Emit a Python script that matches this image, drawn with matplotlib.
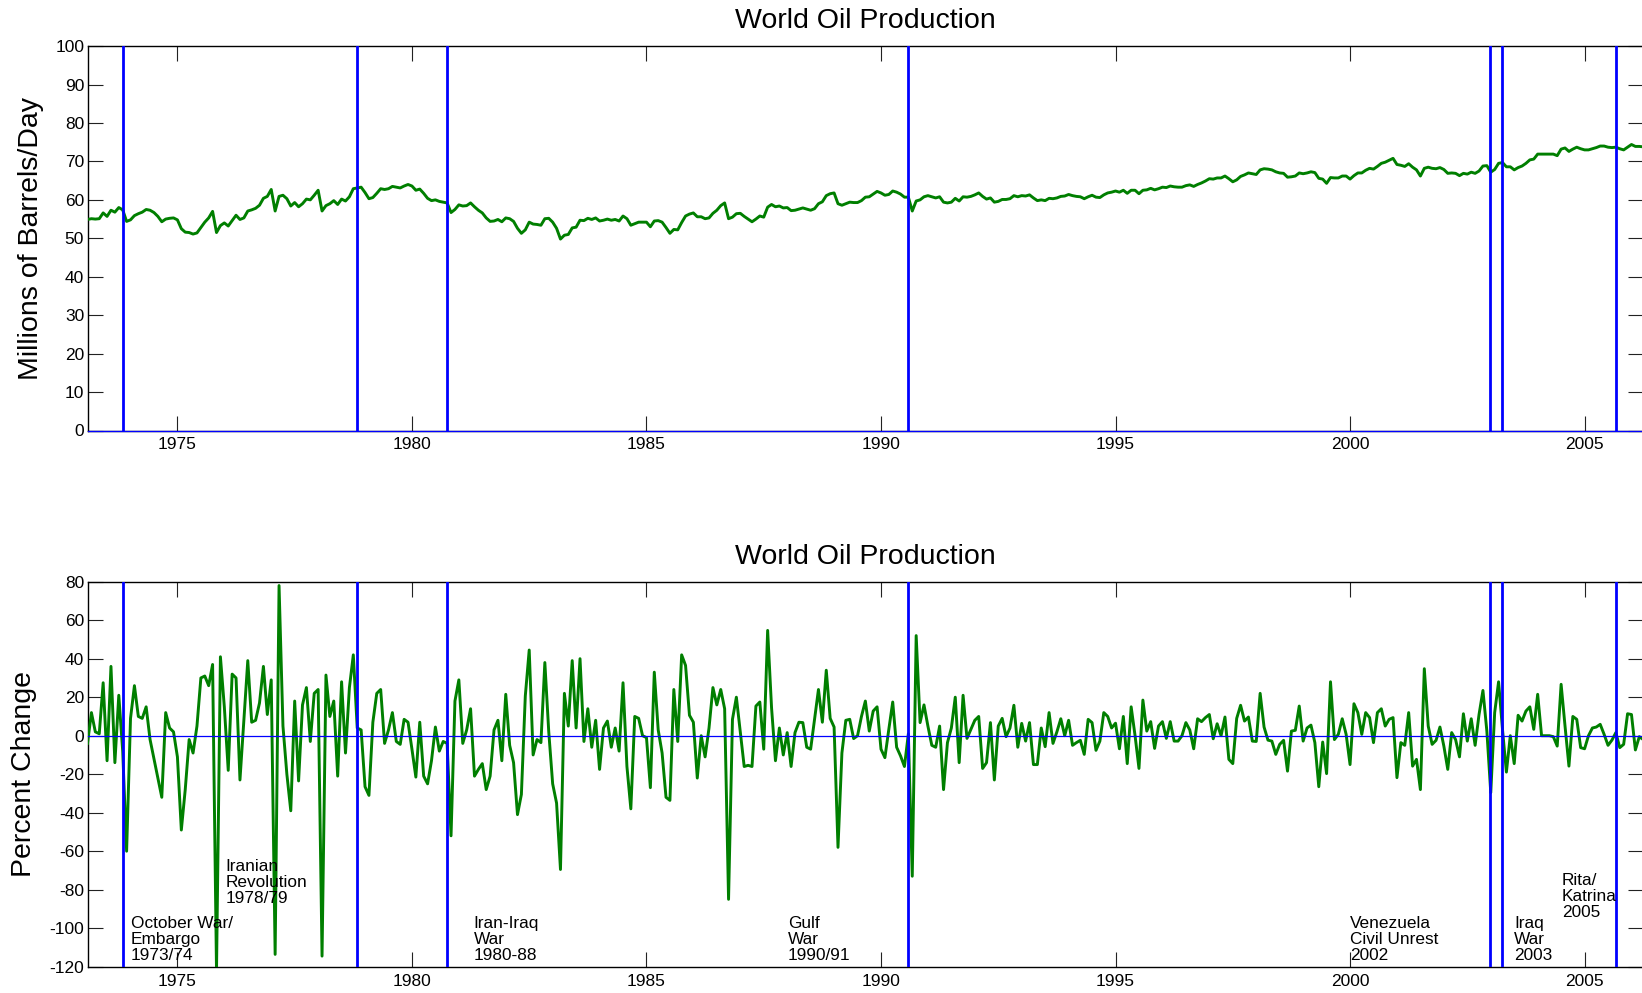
import numpy as np
import matplotlib
matplotlib.use("Agg")
import matplotlib.pyplot as plt

plt.rcParams['font.family'] = ['Liberation Sans', 'DejaVu Sans']
plt.rcParams['axes.unicode_minus'] = False

# ---------------- data (monthly) ----------------
start_year = 1973          # first production value = Jan 1973
# World oil production, millions of barrels/day (Jan 1973 ... May 2006)
production = [
    54.8, 54.9, 55.1, 55.0, 55.1, 56.6, 55.7, 57.3, 56.8, 58.0, 57.4, 54.4,   # 1973
    54.8, 55.9, 56.4, 56.8, 57.5, 57.3, 56.7, 55.7, 54.3, 55.0, 55.2, 55.3,   # 1974
    54.8, 52.5, 51.6, 51.5, 51.1, 51.4, 52.8, 54.2, 55.3, 57.0, 51.5, 53.3,   # 1975
    54.0, 53.2, 54.6, 56.0, 54.9, 55.3, 57.1, 57.4, 57.8, 58.6, 60.4, 60.9,   # 1976
    62.7, 57.1, 60.9, 61.2, 60.3, 58.4, 59.3, 58.2, 59.0, 60.2, 60.0, 61.2,   # 1977
    62.5, 57.1, 58.5, 59.0, 59.8, 58.8, 60.2, 59.7, 60.8, 62.9, 63.1, 63.3,   # 1978
    61.9, 60.3, 60.6, 61.7, 62.9, 62.7, 62.9, 63.5, 63.3, 63.1, 63.6, 64.0,   # 1979
    63.6, 62.5, 62.8, 61.7, 60.4, 59.8, 60.0, 59.6, 59.4, 59.2, 56.7, 57.5,   # 1980
    58.7, 58.4, 58.5, 59.2, 58.2, 57.3, 56.6, 55.3, 54.4, 54.5, 54.9, 54.3,   # 1981
    55.3, 55.1, 54.4, 52.6, 51.3, 52.2, 54.2, 53.7, 53.6, 53.4, 55.1, 55.2,   # 1982
    54.2, 52.6, 49.8, 50.8, 51.0, 52.7, 52.9, 54.7, 54.6, 55.2, 54.9, 55.3,   # 1983
    54.5, 54.7, 55.0, 54.7, 54.9, 54.5, 55.8, 55.1, 53.4, 53.8, 54.2, 54.2,   # 1984
    54.2, 53.0, 54.5, 54.6, 54.2, 52.8, 51.3, 52.3, 52.2, 54.1, 55.8, 56.3,   # 1985
    56.6, 55.6, 55.6, 55.1, 55.3, 56.5, 57.3, 58.5, 59.2, 55.1, 55.5, 56.4,   # 1986
    56.5, 55.7, 55.0, 54.3, 55.0, 55.8, 55.5, 58.1, 58.8, 58.2, 58.4, 57.9,   # 1987
    58.0, 57.2, 57.3, 57.6, 57.9, 57.6, 57.3, 57.7, 59.0, 59.5, 61.1, 61.6,   # 1988
    61.8, 59.0, 58.6, 59.0, 59.4, 59.3, 59.3, 59.8, 60.7, 60.8, 61.5, 62.2,   # 1989
    61.8, 61.2, 61.4, 62.3, 62.0, 61.5, 60.7, 60.7, 57.1, 59.7, 60.0, 60.8,   # 1990
    61.1, 60.8, 60.5, 60.8, 59.4, 59.2, 59.4, 60.4, 59.7, 60.8, 60.7, 60.9,   # 1991
    61.3, 61.8, 60.9, 60.2, 60.5, 59.4, 59.6, 60.1, 60.1, 60.3, 61.1, 60.8,   # 1992
    61.1, 61.0, 61.3, 60.5, 59.8, 60.0, 59.8, 60.4, 60.3, 60.5, 60.9, 61.0,   # 1993
    61.4, 61.1, 60.9, 60.8, 60.3, 60.8, 61.2, 60.7, 60.6, 61.3, 61.8, 62.0,   # 1994
    62.3, 62.0, 62.5, 61.7, 62.5, 62.5, 61.6, 62.5, 62.6, 63.0, 62.6, 62.9,   # 1995
    63.3, 63.2, 63.6, 63.4, 63.3, 63.3, 63.7, 63.9, 63.5, 64.0, 64.4, 64.9,   # 1996
    65.5, 65.4, 65.7, 65.7, 66.2, 65.5, 64.7, 65.2, 66.1, 66.5, 67.0, 66.8,   # 1997
    66.6, 67.8, 68.1, 68.0, 67.8, 67.3, 67.0, 66.9, 65.9, 66.0, 66.2, 67.0,   # 1998
    66.8, 67.0, 67.3, 67.1, 65.6, 65.4, 64.3, 65.8, 65.7, 65.7, 66.2, 66.2,   # 1999
    65.4, 66.3, 67.0, 67.0, 67.7, 68.2, 68.0, 68.7, 69.5, 69.8, 70.3, 70.8,   # 2000
    69.2, 69.0, 68.7, 69.4, 68.5, 67.8, 66.2, 68.2, 68.5, 68.2, 68.1, 68.4,   # 2001
    67.9, 66.9, 67.0, 66.9, 66.3, 66.9, 66.7, 67.2, 66.9, 67.5, 68.8, 68.9,   # 2002
    67.2, 67.9, 69.5, 69.7, 68.6, 68.6, 67.8, 68.4, 68.8, 69.5, 70.4, 70.6,   # 2003
    71.9, 71.9, 71.9, 71.9, 71.9, 71.5, 73.2, 73.5, 72.6, 73.2, 73.7, 73.3,   # 2004
    73.0, 73.0, 73.3, 73.6, 74.0, 74.0, 73.7, 73.6, 73.7, 73.3, 73.0, 73.7,   # 2005
    74.4, 73.9, 73.9, 73.8, 73.8,                                             # 2006
]

# Annualised monthly percent change (Feb 1973 ... May 2006)
pct_change = [
    -4, 12, 2, 1, 27.5, -13, 36, -14, 21, -8, -60,                            # 1973
    9, 26, 10, 9, 15, -2, -12, -22, -32, 12, 4, 2,                            # 1974
    -11, -49, -28, -2, -9, 5, 30, 31, 26, 37, -122, 41,                       # 1975
    15, -18, 32, 30, -23, 8, 39, 7, 8, 17, 36, 11,                            # 1976
    29, -113.6, 78, 5, -20, -39, 18, -23.5, 16, 25, -3, 22,                   # 1977
    24, -114.5, 31.5, 10, 18, -21, 28, -9, 25, 42, 4, 3,                      # 1978
    -26.5, -31, 7, 22, 24, -4, 3, 12, -3, -4.5, 8.5, 7,                       # 1979
    -7, -21.5, 7, -21, -25, -13, 4.5, -8, -3, -4, -52, 18,                    # 1980
    29, -4, 3, 14, -21, -17.5, -14.5, -28, -21, 3, 8, -13,                    # 1981
    21.5, -5, -14, -41, -30.5, 20.6, 44.5, -10, -2, -3.6, 38, 2,              # 1982
    -25, -35, -69.5, 22, 5, 39, 4, 40, -3, 14, -6, 8,                         # 1983
    -17.5, 4, 7.6, -6, 4, -8, 27.5, -16, -38, 10, 9, 0,                       # 1984
    -1, -27, 33, 3, -9, -32, -33.6, 24, -3, 42, 36.5, 10.6,                   # 1985
    7, -22, 0, -11, 4, 25, 16, 24, 14, -85, 8.5, 20,                          # 1986
    2, -16, -15.4, -16, 15.4, 17.5, -7, 54.7, 14.5, -13, 4, -10,              # 1987
    1.6, -16, 1.6, 7, 6.8, -6, -7, 8.5, 24, 7, 34, 9,                         # 1988
    4.5, -58, -9, 8, 8.5, -1.5, 0, 10, 18, 2.4, 12.8, 15,                     # 1989
    -7, -11.4, 3.3, 17.5, -6, -10.5, -16, 1, -73, 52, 6.8, 16,                # 1990
    5, -5, -6, 5, -28, -3.6, 4, 20, -14, 21, -1.4, 3.3,                       # 1991
    8, 10, -17, -14, 6.8, -23, 5, 9, -0.5, 4, 15.8, -6,                       # 1992
    6.4, -2.8, 6.8, -15, -15, 4, -5.7, 12, -4, 2, 8.8, 0,                     # 1993
    8, -5, -3.6, -2.4, -9.7, 8.5, 6.8, -7.6, -2.8, 12, 10, 4,                 # 1994
    6.5, -6.8, 10, -14.5, 15, 0, -17, 18.5, 2.4, 7.3, -6.6, 5,                # 1995
    7.3, -1.4, 7.3, -2.8, -2.8, 0, 6.8, 3, -6.8, 8.8, 7.3, 9.4,               # 1996
    11, -1.6, 6.2, 0, 9.7, -12.3, -14.5, 9, 15.8, 7.6, 9.7, -2.8,             # 1997
    -3, 22, 4.5, -2.3, -2.8, -9.7, -4.5, -2.4, -18.4, 2.4, 2.8, 15.4,         # 1998
    -2.8, 4, 5.5, -3.6, -26.5, -3.3, -19.7, 28, -2, 0.7, 8.8, 0.7,            # 1999
    -15, 16.6, 12, 0.7, 12, 9.4, -3.6, 12, 14, 5, 8.5, 9.4,                   # 2000
    -21.8, -3.6, -5, 12, -15.8, -12.3, -28, 34.8, 5, -4.5, -2.4, 4.5,         # 2001
    -5.4, -17.5, 1.6, -2, -11, 11.4, -2.8, 8.8, -5, 11, 23.5, 2.4,            # 2002
    -29.6, 12, 28, 3.3, -18.9, 0, -14.5, 10.6, 7.6, 12.8, 15, 3.3,            # 2003
    21.5, 0, 0, 0, -0.5, -5.4, 26.7, 5, -15.8, 10, 8.5, -6.2,                 # 2004
    -6.8, 0, 4, 4.5, 5.9, 0.7, -5, -2.3, 1.6, -6.2, -4.5, 11.4,               # 2005
    11, -7.4, -0.5, -2, 0,                                                    # 2006
]

event_dates = [1973.83, 1978.83, 1980.75, 1990.58, 2002.99, 2003.24, 2005.66]
event_labels = ["October War/\nEmbargo\n1973/74",
                "Iranian\nRevolution\n1978/79",
                "Iran-Iraq\nWar\n1980-88",
                "Gulf\nWar\n1990/91",
                "Venezuela\nCivil Unrest\n2002",
                "Iraq\nWar\n2003",
                "Rita/\nKatrina\n2005"]
year_ticks = [1975, 1980, 1985, 1990, 1995, 2000, 2005]

# ---------------- figure ----------------
W, H = 1642, 993
fig = plt.figure(figsize=(W / 100, H / 100), dpi=100)

left_px, right_px = 88.3, 1642.5
ax1 = fig.add_axes([left_px / W, 1 - 430.5 / H, (right_px - left_px) / W, (430.5 - 46.1) / H])
ax2 = fig.add_axes([left_px / W, 1 - 966.7 / H, (right_px - left_px) / W, (966.7 - 581.7) / H])

t_prod = start_year + np.arange(len(production)) / 12.0
t_pct = start_year + (np.arange(len(pct_change)) + 1) / 12.0

green = '#007f00'
blue = '#0000ff'

ax1.plot(t_prod, production, color=green, lw=2.1, zorder=3)
ax2.plot(t_pct, pct_change, color=green, lw=2.1, zorder=3)

for ax in (ax1, ax2):
    for d in event_dates:
        ax.axvline(d, color=blue, lw=2.0, zorder=4)
    ax.axhline(0, color=blue, lw=0.9, zorder=4, clip_on=False)
    ax.set_xlim(1973.10, 2006.235)
    ax.set_xticks(year_ticks)
    ax.tick_params(direction='in', length=10.8, width=0.8, color='#222222',
                   top=True, right=True, labelsize=12.5, pad=3)
    ax.tick_params(axis='x', pad=5)
    for s in ax.spines.values():
        s.set_linewidth(1.0)
        s.set_color('black')
    ax.set_title('World Oil Production', fontsize=20.5, pad=13)

ax1.set_ylim(0, 100)
ax1.set_yticks(range(0, 101, 10))
ax1.set_ylabel('Millions of Barrels/Day', fontsize=20.5)
ax1.yaxis.set_label_coords(-0.0285, 0.5)

ax2.set_ylim(-120, 80)
ax2.set_yticks(range(-120, 81, 20))
ax2.set_ylabel('Percent Change', fontsize=20.5)
ax2.yaxis.set_label_coords(-0.033, 0.5)

label_pos = [(1974.0, -93.5), (1976.03, -64.0), (1981.32, -93.5), (1988.02, -93.5),
             (2000.0, -93.5), (2003.5, -93.5), (2004.52, -71.3)]
for txt, (lx, ly) in zip(event_labels, label_pos):
    ax2.text(lx, ly, txt, fontsize=12.4, ha='left', va='top', zorder=5,
             linespacing=1.08)

fig.savefig('out.png', dpi=100)
